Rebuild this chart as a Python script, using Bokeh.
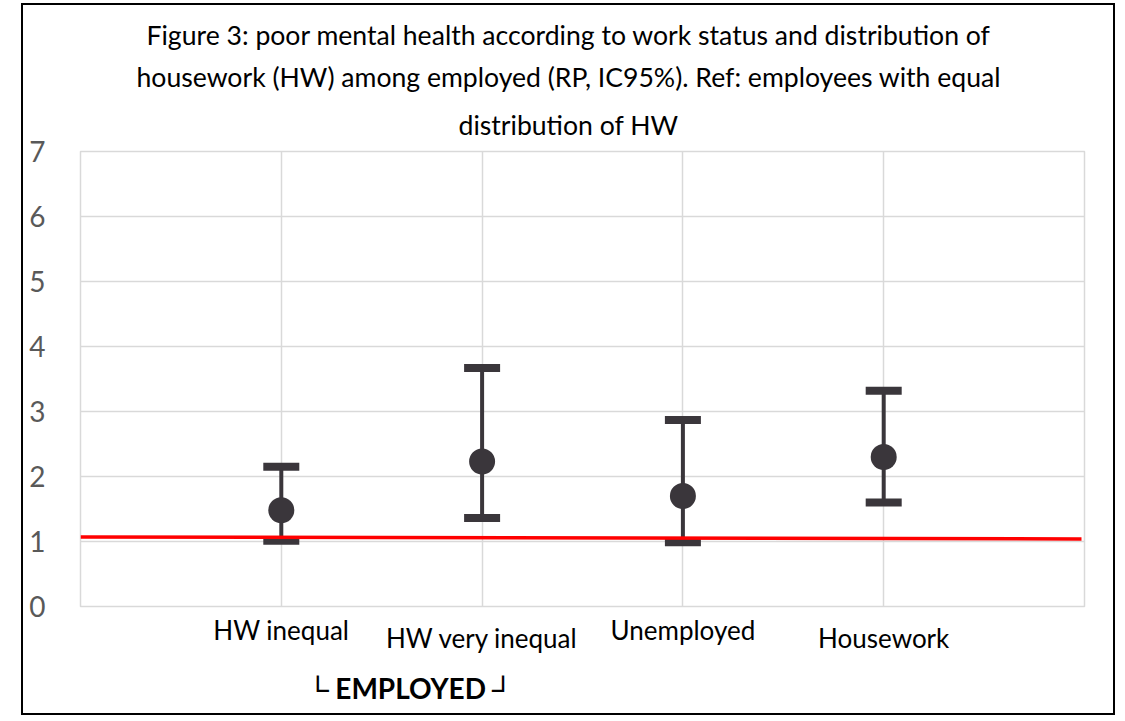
from bokeh.plotting import figure
from bokeh.models import (ColumnDataSource, FixedTicker, Range1d, LinearAxis, Title)
from bokeh.embed import file_html
from bokeh.resources import INLINE

# ---- data ----
categories = ["HW inequal", "HW very inequal", "Unemployed", "Housework"]
cat_pos = [1, 2, 3, 4]
rp = [1.48, 2.23, 1.70, 2.30]
ci_low = [1.01, 1.36, 0.99, 1.60]
ci_high = [2.15, 3.67, 2.87, 3.32]
ref_x = [0.0, 4.985]
ref_y = [1.07, 1.04]
y_ticks = [0, 1, 2, 3, 4, 5, 6, 7]
title_lines = [
    "Figure 3: poor mental health according to work status and distribution of",
    "housework (HW) among employed  (RP, IC95%). Ref: employees with equal",
    "distribution of HW",
]
group_label = "\u2514 EMPLOYED \u2518"

FONT = "Lato"
DARK = "#3a363b"

p = figure(width=1094, height=712, output_backend="svg", toolbar_location=None,
           x_range=Range1d(0, 5), y_range=Range1d(0, 7), x_axis_location=None,
           min_border_left=57, min_border_right=33, min_border_top=146,
           min_border_bottom=111, margin=(3, 0, 0, 21),
           styles={"border": "2px solid #000000"})
p.background_fill_color = "white"
p.border_fill_color = "white"
p.outline_line_color = "#d9d9d9"
p.outline_line_width = 1.5

p.xgrid.ticker = FixedTicker(ticks=cat_pos)
p.xgrid.grid_line_color = "#d9d9d9"
p.xgrid.grid_line_width = 1.5
p.yaxis.ticker = FixedTicker(ticks=y_ticks)
p.ygrid.grid_line_color = "#d9d9d9"
p.ygrid.grid_line_width = 1.5
p.yaxis.axis_line_color = None
p.yaxis.major_tick_line_color = None
p.yaxis.minor_tick_line_color = None
p.yaxis.major_label_text_font = FONT
p.yaxis.major_label_text_font_size = "28px"
p.yaxis.major_label_text_color = "#595959"
p.yaxis.major_label_standoff = 29

src = ColumnDataSource(dict(x=cat_pos, rp=rp, lo=ci_low, hi=ci_high, cat=categories))

p.segment(x0="x", y0="lo", x1="x", y1="hi", source=src, line_color=DARK, line_width=4)
p.rect(x="x", y="hi", width=36, height=8, width_units="screen", height_units="screen",
       source=src, fill_color=DARK, line_color=None)
p.rect(x="x", y="lo", width=36, height=8, width_units="screen", height_units="screen",
       source=src, fill_color=DARK, line_color=None)
p.scatter(x="x", y="rp", source=src, size=26, fill_color=DARK, line_color=None)

p.line(ref_x, ref_y, line_color="#ff0000", line_width=3.5)

# category axes (staggered rows, as in the reference)
def cat_axis(idx, standoff):
    ax = LinearAxis(ticker=FixedTicker(ticks=[cat_pos[i] for i in idx]),
                    major_label_overrides={cat_pos[i]: categories[i] for i in idx})
    ax.axis_line_color = None
    ax.major_tick_line_color = None
    ax.minor_tick_line_color = None
    ax.major_tick_out = 0
    ax.major_tick_in = 0
    ax.major_label_standoff = standoff
    ax.major_label_text_font = FONT
    ax.major_label_text_font_size = "26px"
    ax.major_label_text_color = "#000000"
    return ax

p.add_layout(cat_axis([0, 2], 7), "below")
p.add_layout(cat_axis([1, 3], -27), "below")

p.add_layout(Title(text=group_label, align="left", offset=227, standoff=25,
                   text_font=FONT, text_font_size="28px", text_font_style="bold",
                   text_color="#000000"), "below")

# title lines (closest to frame first)
for t, so, off in zip(reversed(title_lines), [21, 8, 8], [378, 56, 66]):
    p.add_layout(Title(text=t, align="left", offset=off, standoff=so,
                       text_font=FONT, text_font_size="26.6px", text_font_style="normal",
                       text_color="#000000"), "above")

open("out.html", "w").write(file_html(p, INLINE))
